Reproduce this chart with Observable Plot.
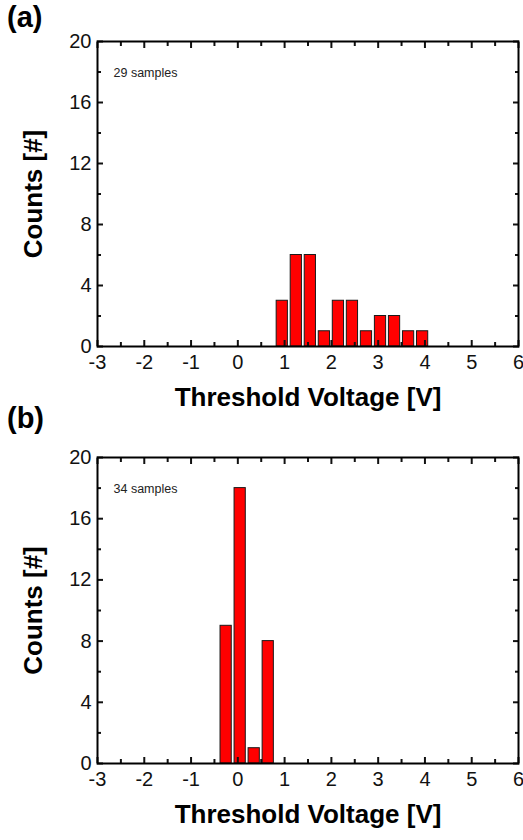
<!DOCTYPE html>
<html><head><meta charset="utf-8">
<script src="https://cdn.jsdelivr.net/npm/d3@7"></script>
<script src="https://cdn.jsdelivr.net/npm/@observablehq/plot@0.6"></script>
<style>
body{margin:0;background:#fff;font-family:"Liberation Sans",Arial,sans-serif;}
#wrap{position:relative;width:523px;height:840px;overflow:hidden;}
.panel{position:absolute;left:0;}
.tag{position:absolute;left:7px;font-weight:bold;font-size:29px;color:#000;line-height:1;}
</style></head><body>
<div id="wrap"></div>
<script>
// Panel (a): 29 samples
const voltageA = [0.95, 1.25, 1.55, 1.85, 2.15, 2.45, 2.75, 3.05, 3.35, 3.65, 3.95];
const countsA  = [3, 6, 6, 1, 3, 3, 1, 2, 2, 1, 1];
// Panel (b): 34 samples
const voltageB = [-0.25, 0.05, 0.35, 0.65];
const countsB  = [9, 18, 1, 8];

const xMajor = [-3, -2, -1, 0, 1, 2, 3, 4, 5, 6];
const xMinor = [-2.5, -1.5, -0.5, 0.5, 1.5, 2.5, 3.5, 4.5, 5.5];
const yMajor = [0, 4, 8, 12, 16, 20];
const yMinor = [2, 6, 10, 14, 18];
const xTitle = "Threshold Voltage [V]";
const yTitle = "Counts [#]";

function panel(voltages, counts, note, height, marginTop, marginBottom) {
  const data = voltages.map((v, i) => ({v, c: counts[i]}));
  const tickOpts = {strokeWidth: 2, tickFormat: () => "", label: null};
  return Plot.plot({
    width: 523, height, marginTop, marginBottom, marginLeft: 97, marginRight: 5,
    x: {domain: [-3, 6]},
    y: {domain: [0, 20]},
    style: {fontFamily: "'Liberation Sans', Arial, sans-serif", color: "#111", background: "transparent", overflow: "visible"},
    marks: [
      Plot.rectY(data, {x1: d => d.v - 0.12, x2: d => d.v + 0.12, y1: 0, y2: "c", fill: "#ff0000", stroke: "#1a1a1a", strokeWidth: 1}),
      Plot.axisX({ticks: xMajor, anchor: "bottom", tickSize: 0, tickPadding: 8, fontSize: 20, tickFormat: d => String(d), label: null}),
      Plot.axisY({ticks: yMajor, anchor: "left", tickSize: 0, tickPadding: 6, fontSize: 20, tickFormat: d => String(d), label: null}),
      Plot.axisX({ticks: xMajor, anchor: "bottom", tickSize: -6, ...tickOpts}),
      Plot.axisX({ticks: xMinor, anchor: "bottom", tickSize: -4, ...tickOpts}),
      Plot.axisX({ticks: xMajor, anchor: "top", tickSize: -6, ...tickOpts}),
      Plot.axisX({ticks: xMinor, anchor: "top", tickSize: -4, ...tickOpts}),
      Plot.axisY({ticks: yMajor, anchor: "left", tickSize: -6, ...tickOpts}),
      Plot.axisY({ticks: yMinor, anchor: "left", tickSize: -4, ...tickOpts}),
      Plot.axisY({ticks: yMajor, anchor: "right", tickSize: -6, ...tickOpts}),
      Plot.axisY({ticks: yMinor, anchor: "right", tickSize: -4, ...tickOpts}),
      Plot.frame({stroke: "#000", strokeWidth: 2}),
      Plot.text([note], {text: d => d, frameAnchor: "top-left", dx: 16, dy: 27, fontSize: 12.5, textAnchor: "start", fill: "#222"}),
      Plot.text([xTitle], {text: d => d, frameAnchor: "bottom", dy: 51, lineAnchor: "middle", textAnchor: "middle", fontSize: 26, fontWeight: "bold", fill: "#000"}),
      Plot.text([yTitle], {text: d => d, frameAnchor: "left", dx: -64, rotate: -90, lineAnchor: "middle", textAnchor: "middle", fontSize: 26, fontWeight: "bold", fill: "#000"})
    ]
  });
}

const wrap = document.getElementById("wrap");
function place(node, top) {
  node.classList.add("panel");
  node.style.top = top + "px";
  wrap.appendChild(node);
}
place(panel(voltageA, countsA, "29 samples", 410, 41, 64), 0);
place(panel(voltageB, countsB, "34 samples", 430, 47, 77), 410);

for (const [t, top] of [["(a)", 3], ["(b)", 404]]) {
  const d = document.createElement("div");
  d.className = "tag"; d.textContent = t; d.style.top = top + "px";
  wrap.appendChild(d);
}
</script>
</body></html>
